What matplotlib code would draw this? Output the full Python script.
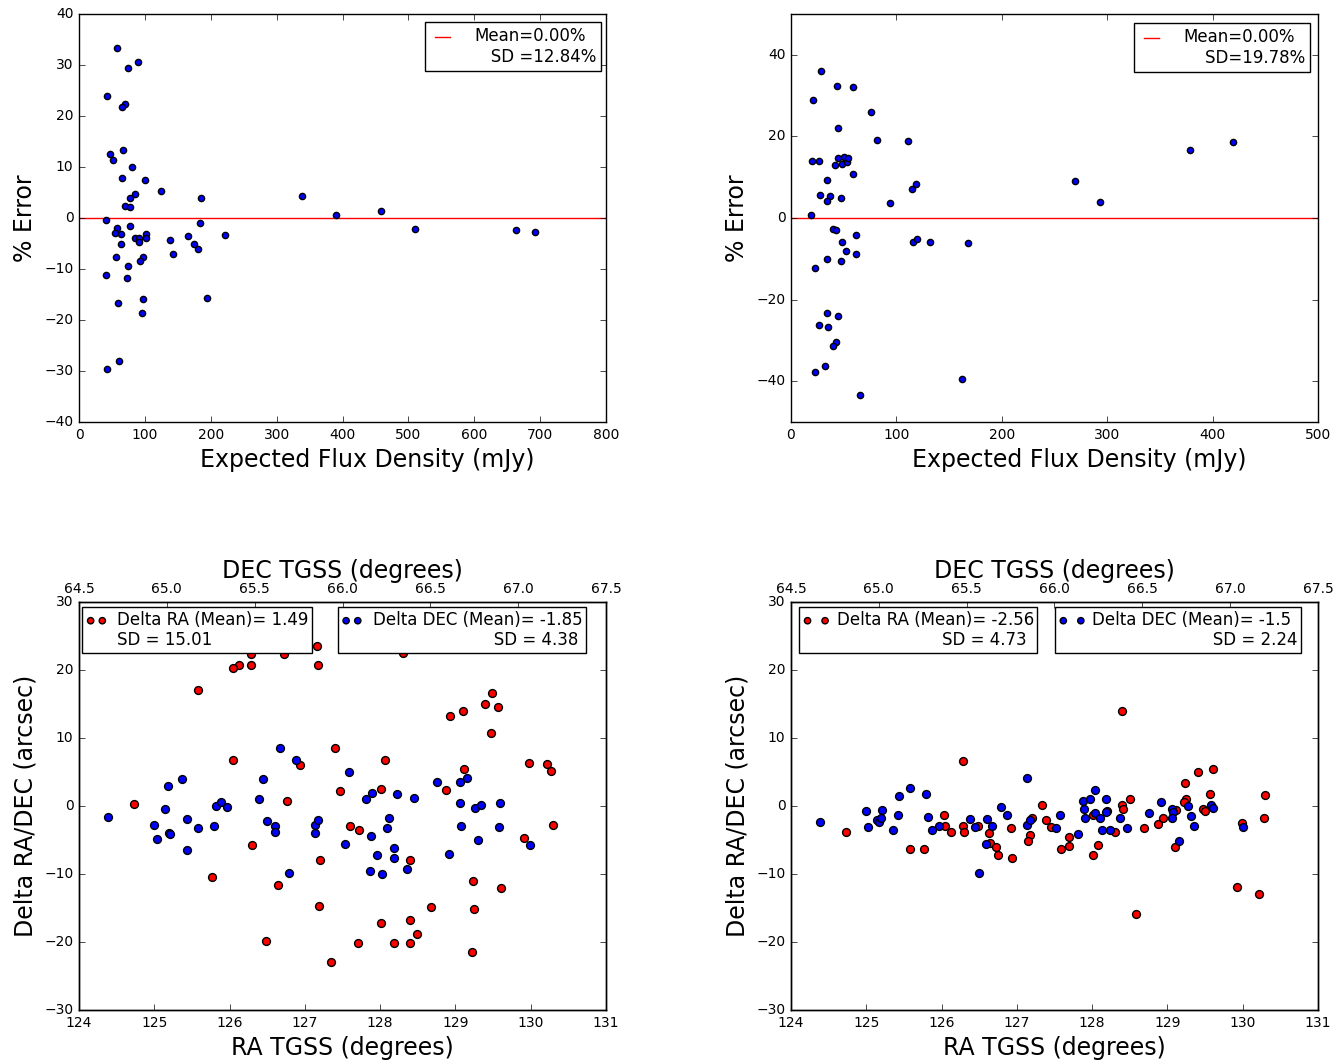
import numpy as np
import matplotlib
matplotlib.use('Agg')
import matplotlib.pyplot as plt
from matplotlib.legend_handler import HandlerLine2D

plt.style.use('classic')
plt.rcParams['figure.facecolor'] = 'white'
plt.rcParams['savefig.facecolor'] = 'white'
plt.rcParams['font.family'] = ['DejaVu Sans']

# --- flux comparison, panel 1 (mJy, % error)
flux1 = [57, 90, 74, 43, 70, 65, 47, 67, 52, 80.5, 66, 100.5, 125, 85, 77, 185, 70, 78,
         339, 389.5, 459, 510, 664, 692,
         41, 184, 77, 58, 55, 64, 85, 91, 101.5, 101.5, 91, 138, 166, 175, 180.5, 221.5,
         63.5, 56, 142.5, 97.4, 93, 74, 40.5, 73, 97, 194, 59.5, 95, 60, 43]
err1 = [33.3, 30.6, 29.5, 23.9, 22.4, 21.7, 12.5, 13.3, 11.3, 10.1, 7.9, 7.5, 5.3, 4.8, 3.9, 3.9, 2.4, 2.2,
        4.4, 0.5, 1.4, -2.2, -2.4, -2.8,
        -0.4, -1.0, -1.5, -2.0, -3.0, -3.2, -3.9, -4.0, -3.1, -4.0, -4.8, -4.4, -3.6, -5.0, -6.1, -3.3,
        -5.0, -7.6, -7.1, -7.7, -8.5, -9.5, -11.2, -11.8, -15.9, -15.7, -16.7, -18.7, -28.1, -29.7]

# --- flux comparison, panel 2
flux2 = [28.8, 43.7, 58.9, 20.9, 75.9, 44.3, 81.6, 110.8, 20.3, 26.9, 42.1, 44.3, 50.3, 48.1, 53.2, 54.1,
         58.9, 33.9, 27.2, 37.0, 34.2, 47.2, 93.7, 115.2, 118.7, 19.0, 40.2, 43.0, 62.0, 48.4, 52.5, 61.4,
         34.5, 47.2, 22.5, 116.1, 119.6, 131.6, 168.4, 34.2, 44.3, 26.3, 35.4, 42.4, 39.6, 32.6, 23.1,
         162.7, 65.2, 269.1, 292.9, 378.9, 419.1]
err2 = [36.1, 32.3, 32.2, 29.0, 26.1, 22.0, 19.2, 19.0, 14.0, 13.9, 13.0, 14.8, 15.0, 13.3, 13.8, 14.6,
        10.7, 9.4, 5.6, 5.3, 4.2, 5.0, 3.8, 7.1, 8.4, 0.8, -2.7, -3.0, -4.2, -6.0, -8.1, -8.7,
        -10.1, -10.6, -12.2, -6.0, -5.1, -6.0, -6.2, -23.3, -23.9, -26.3, -26.6, -30.4, -31.4, -36.3, -37.7,
        -39.5, -43.3, 9.1, 4.0, 16.6, 18.6]

# --- positional offsets, panel 3
ra3_red = [126.95, 127.16, 126.29, 126.72, 127.17, 126.13, 126.28, 126.04, 125.58, 126.05,
           126.93, 124.73, 126.76, 127.46, 127.40, 127.60, 127.72, 126.30, 127.20, 125.77,
           126.64, 127.19, 126.49, 127.35, 127.70, 128.30, 129.49, 129.39, 129.56, 129.10,
           128.93, 129.47, 128.07, 129.98, 130.21, 130.27, 129.11, 128.87, 128.01, 130.30,
           129.91, 128.39, 129.23, 129.60, 128.68, 129.25, 128.01, 128.39, 128.49, 128.19,
           128.40, 129.22]
dra3 = [24.7, 23.5, 22.3, 22.3, 20.7, 20.8, 20.8, 20.3, 17.1, 6.8,
        6.1, 0.3, 0.8, 2.2, 8.6, -3.0, -3.6, -5.7, -8.0, -10.4,
        -11.6, -14.7, -19.8, -23.0, -20.2, 22.5, 16.6, 15.0, 14.6, 14.0,
        13.3, 10.7, 6.7, 6.3, 6.2, 5.2, 5.4, 2.4, 2.5, -2.8,
        -4.7, -8.0, -11.1, -12.1, -14.9, -15.1, -17.2, -16.7, -18.8, -20.2,
        -20.2, -21.5]
ra3_blue = [124.39, 125.00, 125.04, 125.14, 125.18, 125.20, 125.21, 125.37, 125.43, 125.44,
            125.58, 125.79, 125.82, 125.89, 125.97, 126.39, 126.45, 126.50, 126.60, 126.60,
            126.67, 126.79, 126.88, 127.13, 127.13, 127.18, 127.53, 127.58,
            127.81, 127.89, 128.23, 128.45, 128.75, 129.06, 129.15, 129.06, 129.26, 129.34,
            129.59, 128.12, 128.09, 127.88, 129.07, 129.58, 129.30, 128.18, 127.96, 128.18,
            128.36, 127.87, 128.03, 128.91, 129.99]
ddec3 = [-1.6, -2.8, -4.9, -0.5, 3.0, -4.0, -4.1, 3.9, -1.9, -6.5,
         -3.3, -3.0, 0.0, 0.6, -0.1, 1.1, 3.9, -2.2, -3.0, -3.8,
         8.5, -9.9, 6.7, -2.8, -4.0, -2.1, -5.6, 5.0,
         1.0, 1.9, 1.8, 1.2, 3.6, 3.5, 4.1, 0.5, -0.3, 0.2,
         0.4, -1.8, -3.3, -4.4, -3.0, -3.1, -5.0, -6.2, -7.2, -7.7,
         -9.2, -9.6, -10.0, -7.0, -5.7]

# --- positional offsets, panel 4
ra4_red = [126.29, 124.73, 126.03, 126.05, 126.13, 126.28, 126.30, 126.48, 125.58, 125.77,
           126.63, 126.64, 126.72, 126.75, 126.92, 126.94, 127.20, 127.17, 127.15, 127.34,
           127.39, 127.46, 127.59, 127.69, 127.69,
           128.40, 128.58, 129.40, 129.60, 129.24, 129.57, 128.50, 128.40, 128.41, 129.25,
           129.22, 129.12, 129.47, 129.50, 130.29, 130.28, 129.99, 129.92, 130.22, 128.01,
           128.20, 128.31, 128.69, 128.88, 128.94, 129.10, 128.08, 128.01]
dra4 = [6.6, -3.8, -1.4, -2.9, -3.8, -2.9, -3.8, -2.9, -6.3, -6.3,
        -4.0, -5.4, -6.0, -7.2, -3.2, -7.7, -1.7, -4.3, -5.1, 0.2,
        -2.0, -3.1, -6.3, -4.5, -5.9,
        14.0, -15.9, 5.0, 5.4, 3.4, 1.7, 1.0, 0.1, -0.5, 1.1,
        0.6, -0.6, -0.5, -0.8, 1.6, -1.8, -2.5, -11.9, -12.9, -1.4,
        -0.8, -3.8, -3.2, -2.7, -1.8, -6.1, -5.7, -7.2]
ra4_blue = [124.39, 125.00, 125.03, 125.14, 125.17, 125.19, 125.21, 125.36, 125.42, 125.44,
            125.58, 125.79, 125.82, 125.88, 125.96, 126.38, 126.45, 126.50, 126.60, 126.59,
            126.67, 126.79, 126.87, 127.13, 127.13, 127.18, 127.52, 127.58,
            127.81, 127.88, 127.89, 127.90, 127.97, 128.04, 128.04, 128.10, 128.13, 128.19,
            128.19, 128.24, 128.37, 128.46, 128.76, 128.92, 129.06, 129.07, 129.06, 129.16,
            129.27, 129.31, 129.35, 129.58, 129.60, 130.00]
ddec4 = [-2.3, -0.8, -3.1, -2.0, -2.3, -1.7, -0.6, -3.5, -1.4, 1.4,
         2.6, 1.7, -1.6, -3.5, -3.0, -1.9, -3.1, -9.9, -1.9, -5.6,
         -3.0, -0.1, -1.3, 4.1, -2.8, -2.0, -3.3, -1.3,
         -4.1, 0.8, -0.4, -1.7, 1.1, 2.3, -1.0, -1.7, -3.5, -0.9,
         1.1, -3.6, -1.8, -3.3, -1.1, 0.6, -0.5, -0.9, -1.7, -5.1,
         0.0, -1.5, -2.9, 0.2, -0.3, -3.1]


class FirstRowLine(HandlerLine2D):
    # put the legend line beside the first text row instead of the middle
    def create_artists(self, legend, orig_handle, xdescent, ydescent, width, height,
                       fontsize, trans):
        return super().create_artists(legend, orig_handle, xdescent,
                                      ydescent - 1.3 * fontsize, width, height,
                                      fontsize, trans)


fig = plt.figure(figsize=(13.39, 10.64), dpi=100)
lblsize = 17

def flux_panel(rect, x, y, xmax, ylim, yticks, label, anchor):
    ax = fig.add_axes(rect)
    ln = ax.axhline(0, color='r', lw=1, zorder=1)
    ax.scatter(x, y, s=20, c='b', edgecolors='k', zorder=2)
    ax.set_xlim(0, xmax)
    ax.set_ylim(*ylim)
    ax.set_yticks(yticks)
    ax.tick_params(labelsize=10)
    ax.set_xlabel('Expected Flux Density (mJy)', fontsize=lblsize)
    ax.xaxis.label.set_x(0.547)
    ax.set_ylabel('% Error', fontsize=lblsize)
    ax.legend([ln], [label], handler_map={ln: FirstRowLine()},
              loc='upper right', bbox_to_anchor=anchor, fontsize=12, handlelength=1.5,
              handletextpad=1.2, borderaxespad=0, borderpad=0.3, fancybox=False)
    return ax

flux_panel([0.059, 0.6034, 0.3936, 0.3834], flux1, err1, 800, (-40, 40),
           np.arange(-40, 41, 10), 'Mean=0.00%\n   SD =12.84%', (0.9905, 0.98))
flux_panel([0.5907, 0.6034, 0.3936, 0.3834], flux2, err2, 500, (-50, 50),
           np.arange(-40, 41, 20), 'Mean=0.00%\n    SD=19.78%', (0.985, 0.978))

def offset_panel(rect, rx, ry, bx, by, lab_ra, lab_dec, ra_anchor, dec_anchor, hlen, hpad):
    ax = fig.add_axes(rect)
    sr = ax.scatter(rx, ry, s=32, c='r', edgecolors='k', zorder=2)
    sb = ax.scatter(bx, by, s=32, c='b', edgecolors='k', zorder=3)
    ax.set_xlim(124, 131)
    ax.set_ylim(-30, 30)
    ax.set_yticks(np.arange(-30, 31, 10))
    ax.tick_params(labelsize=10)
    ax.set_xlabel('RA TGSS (degrees)', fontsize=lblsize)
    ax.set_ylabel('Delta RA/DEC (arcsec)', fontsize=lblsize)
    top = ax.twiny()
    top.set_xlim(64.5, 67.5)
    top.set_xticks(np.arange(64.5, 67.6, 0.5))
    top.set_xticklabels(['%.1f' % v for v in np.arange(64.5, 67.6, 0.5)])
    top.tick_params(labelsize=10)
    top.set_xlabel('DEC TGSS (degrees)', fontsize=lblsize, labelpad=3)
    opts = dict(loc='upper left', borderaxespad=0, fontsize=12, scatterpoints=2,
                scatteryoffsets=[1.4], markerscale=0.8, handlelength=hlen,
                handletextpad=hpad, borderpad=0.2, fancybox=False)
    l1 = top.legend([sr], [lab_ra], bbox_to_anchor=ra_anchor, **opts)
    top.add_artist(l1)
    top.legend([sb], [lab_dec], bbox_to_anchor=dec_anchor, **opts)
    return ax

offset_panel([0.059, 0.0508, 0.3936, 0.3834], ra3_red, dra3, ra3_blue, ddec3,
             'Delta RA (Mean)= 1.49\nSD = 15.01',
             'Delta DEC (Mean)= -1.85\n' + ' ' * 23 + 'SD = 4.38',
             (0.0063, 0.987), (0.491, 0.987), 1.3, 0.6)
offset_panel([0.5907, 0.0508, 0.3936, 0.3834], ra4_red, dra4, ra4_blue, ddec4,
             'Delta RA (Mean)= -2.56\n' + ' ' * 20 + 'SD = 4.73',
             'Delta DEC (Mean)= -1.5\n' + ' ' * 23 + 'SD = 2.24',
             (0.0157, 0.987), (0.501, 0.987), 1.65, 0.4)

fig.savefig('out.png', dpi=100)
